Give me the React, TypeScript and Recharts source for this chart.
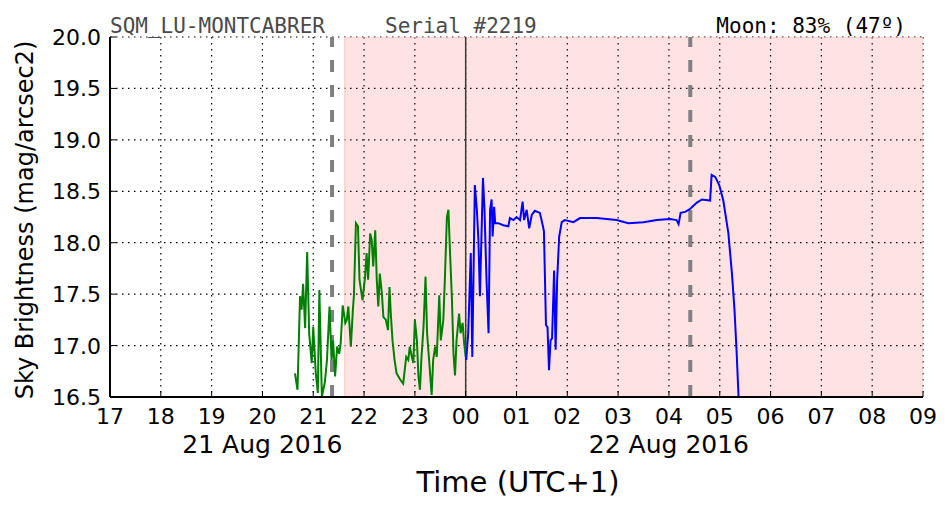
import React from 'react';
import {
    LineChart,
    Line,
    XAxis,
    YAxis,
    CartesianGrid,
    ReferenceArea,
    ReferenceLine,
} from 'recharts';

// hours counted from midnight of 21 Aug 2016 (24 = 00:00 on 22 Aug)
const hourTicks = [17, 18, 19, 20, 21, 22, 23, 24, 25, 26, 27, 28, 29, 30, 31, 32, 33];
const magTicks = [16.5, 17.0, 17.5, 18.0, 18.5, 19.0, 19.5, 20.0];
const dateLabels: Record<number, string> = { 20: '21 Aug 2016', 28: '22 Aug 2016' };

const greenTime = [
    20.64, 20.69, 20.74, 20.77, 20.80, 20.84, 20.88, 20.92, 20.97, 21.00, 21.05, 21.09, 21.12, 21.17,
    21.23, 21.27, 21.32, 21.36, 21.39, 21.43, 21.47, 21.51, 21.54, 21.58, 21.63, 21.66, 21.69, 21.74,
    21.78, 21.80, 21.84, 21.88, 21.91, 21.94, 21.97, 22.02, 22.05, 22.08, 22.12, 22.15, 22.18, 22.22,
    22.25, 22.28, 22.31, 22.35, 22.38, 22.43, 22.47, 22.50, 22.53, 22.56, 22.60, 22.64, 22.71, 22.77,
    22.83, 22.87, 22.90, 22.94, 22.97, 23.00, 23.04, 23.07, 23.10, 23.13, 23.17, 23.21, 23.24, 23.28,
    23.33, 23.36, 23.40, 23.43, 23.48, 23.51, 23.56, 23.59, 23.63, 23.66, 23.69, 23.73, 23.76, 23.79,
    23.82, 23.87, 23.90, 23.94, 23.97, 24.00,
];
const greenMag = [
    16.73, 16.57, 17.48, 17.35, 17.60, 17.17, 17.91, 17.12, 16.83, 17.18, 16.73, 16.54, 17.54, 16.50,
    16.65, 16.86, 17.38, 16.86, 17.05, 16.70, 16.99, 16.92, 17.02, 17.39, 17.22, 17.25, 17.38, 16.99,
    17.35, 17.48, 18.19, 18.16, 17.64, 17.54, 17.44, 17.67, 17.90, 17.64, 18.09, 18.03, 17.77, 18.12,
    17.64, 17.38, 17.70, 17.51, 17.28, 17.25, 17.15, 17.57, 17.28, 17.05, 16.86, 16.73, 16.67, 16.63,
    16.89, 16.86, 16.99, 16.89, 16.83, 17.25, 17.05, 16.70, 16.57, 16.89, 17.18, 17.67, 17.12, 16.86,
    16.52, 16.86, 16.99, 16.89, 17.49, 17.05, 17.25, 17.64, 18.25, 18.32, 17.93, 17.44, 16.92, 16.71,
    17.05, 17.31, 17.12, 17.22, 17.02, 16.89,
];

const blueTime = [
    24.01, 24.05, 24.10, 24.13, 24.18, 24.22, 24.25, 24.28, 24.34, 24.37, 24.41, 24.45, 24.48, 24.51,
    24.53, 24.56, 24.58, 24.64, 24.74, 24.84, 24.87, 24.94, 25.00, 25.07, 25.12, 25.15, 25.20, 25.25,
    25.30, 25.36, 25.46, 25.52, 25.54, 25.58, 25.61, 25.64, 25.67, 25.70, 25.74, 25.77, 25.80, 25.84,
    25.89, 25.95, 26.12, 26.25, 26.58, 26.97, 27.20, 27.50, 27.76, 28.02, 28.15, 28.19, 28.23, 28.32,
    28.42, 28.55, 28.65, 28.81, 28.84, 28.91, 28.99, 29.07, 29.17, 29.24, 29.29, 29.33, 29.37,
];
const blueMag = [
    16.86, 17.12, 17.90, 16.89, 18.56, 18.32, 18.03, 17.48, 18.63, 18.32, 17.64, 17.12, 18.32, 18.42,
    18.06, 18.35, 18.19, 18.19, 18.17, 18.16, 18.24, 18.22, 18.25, 18.22, 18.40, 18.22, 18.32, 18.14,
    18.27, 18.31, 18.29, 18.16, 18.11, 17.20, 17.18, 16.76, 17.05, 17.07, 17.73, 16.96, 17.64, 18.06,
    18.20, 18.22, 18.20, 18.24, 18.24, 18.22, 18.19, 18.20, 18.22, 18.23, 18.22, 18.18, 18.29, 18.30,
    18.33, 18.39, 18.42, 18.41, 18.66, 18.64, 18.56, 18.41, 18.09, 17.70, 17.35, 16.96, 16.50,
];

const twilightEnd = 21.62;
const moonRise = 21.37;
const moonSet = 28.42;

const greenData = greenTime.map((t, i) => ({ t, mag: greenMag[i] }));
const blueData = blueTime.map((t, i) => ({ t, mag: blueMag[i] }));

const FONT = '"DejaVu Sans", sans-serif';
const MONO = '"DejaVu Sans Mono", monospace';
const TICK_LEN = 6;

const pad = (h: number) => String(h % 24).padStart(2, '0');

const BottomTick = ({ x, y, payload }: any) => (
    <g>
        <line x1={x} y1={y} x2={x} y2={y - TICK_LEN} stroke="#000" strokeWidth={1} />
        <text x={x} y={y + 27} textAnchor="middle" fontFamily={FONT} fontSize={22} fill="#000">
            {pad(payload.value)}
        </text>
        {dateLabels[payload.value] && (
            <text x={x} y={y + 56} textAnchor="middle" fontFamily={FONT} fontSize={25} fill="#000">
                {dateLabels[payload.value]}
            </text>
        )}
    </g>
);

const TopTick = ({ x, y }: any) => (
    <line x1={x} y1={y} x2={x} y2={y + TICK_LEN} stroke="#000" strokeWidth={1} />
);

const LeftTick = ({ x, y, payload }: any) => (
    <g>
        <line x1={x} y1={y} x2={x + TICK_LEN} y2={y} stroke="#000" strokeWidth={1} />
        <text x={x - 9} y={y + 8} textAnchor="end" fontFamily={FONT} fontSize={22} fill="#000">
            {payload.value.toFixed(1)}
        </text>
    </g>
);

const RightTick = ({ x, y }: any) => (
    <line x1={x} y1={y} x2={x - TICK_LEN} y2={y} stroke="#000" strokeWidth={1} />
);

export default function App() {
    const frame = { stroke: '#000', strokeWidth: 2 };
    return (
        <div style={{ position: 'absolute', left: 0, top: 0, width: 952, height: 512, background: '#fff' }}>
            <LineChart
                width={952}
                height={512}
                margin={{ top: 37, right: 29, bottom: 0, left: 0 }}
            >
                <CartesianGrid stroke="#000" strokeDasharray="1.5 4.5" strokeWidth={1.2} />
                <ReferenceArea
                    x1={twilightEnd}
                    x2={33}
                    y1={16.5}
                    y2={20}
                    fill="#ff0000"
                    fillOpacity={0.11}
                    stroke="#ffc4c4"
                    strokeWidth={1}
                    ifOverflow="hidden"
                />
                <XAxis
                    dataKey="t"
                    type="number"
                    domain={[17, 33]}
                    ticks={hourTicks}
                    allowDataOverflow
                    height={115}
                    tickSize={0}
                    tickMargin={0}
                    tickLine={false}
                    axisLine={frame}
                    tick={<BottomTick />}
                    interval={0}
                />
                <XAxis
                    xAxisId="top"
                    orientation="top"
                    type="number"
                    domain={[17, 33]}
                    ticks={hourTicks}
                    height={0}
                    tickSize={0}
                    tickMargin={0}
                    tickLine={false}
                    axisLine={frame}
                    tick={<TopTick />}
                    interval={0}
                />
                <YAxis
                    type="number"
                    domain={[16.5, 20]}
                    ticks={magTicks}
                    allowDataOverflow
                    width={110}
                    tickSize={0}
                    tickMargin={0}
                    tickLine={false}
                    axisLine={frame}
                    tick={<LeftTick />}
                    interval={0}
                />
                <YAxis
                    yAxisId="right"
                    orientation="right"
                    type="number"
                    domain={[16.5, 20]}
                    ticks={magTicks}
                    width={0}
                    tickSize={0}
                    tickMargin={0}
                    tickLine={false}
                    axisLine={frame}
                    tick={<RightTick />}
                    interval={0}
                />
                <ReferenceLine x={24} stroke="#3a3a3a" strokeWidth={1.5} />
                <ReferenceLine x={moonRise} stroke="#808080" strokeWidth={4} strokeDasharray="12 13" />
                <ReferenceLine x={moonSet} stroke="#808080" strokeWidth={4} strokeDasharray="12 13" />
                <Line
                    data={greenData}
                    dataKey="mag"
                    type="linear"
                    stroke="#008000"
                    strokeWidth={2}
                    dot={false}
                    isAnimationActive={false}
                />
                <Line
                    data={blueData}
                    dataKey="mag"
                    type="linear"
                    stroke="#0000ff"
                    strokeWidth={2}
                    dot={false}
                    isAnimationActive={false}
                />
            </LineChart>
            <svg
                width={952}
                height={512}
                style={{ position: 'absolute', left: 0, top: 0, pointerEvents: 'none' }}
            >
                <text x={110} y={33} fontFamily={MONO} fontSize={21} fill="#4a4a4a">
                    SQM_LU-MONTCABRER
                </text>
                <text x={385} y={33} fontFamily={MONO} fontSize={21} fill="#4a4a4a">
                    Serial #2219
                </text>
                <text x={906} y={33} textAnchor="end" fontFamily={MONO} fontSize={21} fill="#000">
                    Moon: 83% (47º)
                </text>
                <text
                    x={33}
                    y={220}
                    transform="rotate(-90 33 220)"
                    textAnchor="middle"
                    fontFamily={FONT}
                    fontSize={24}
                    fill="#000"
                >
                    Sky Brightness (mag/arcsec2)
                </text>
                <text x={518} y={492} textAnchor="middle" fontFamily={FONT} fontSize={29} fill="#000">
                    Time (UTC+1)
                </text>
            </svg>
        </div>
    );
}
